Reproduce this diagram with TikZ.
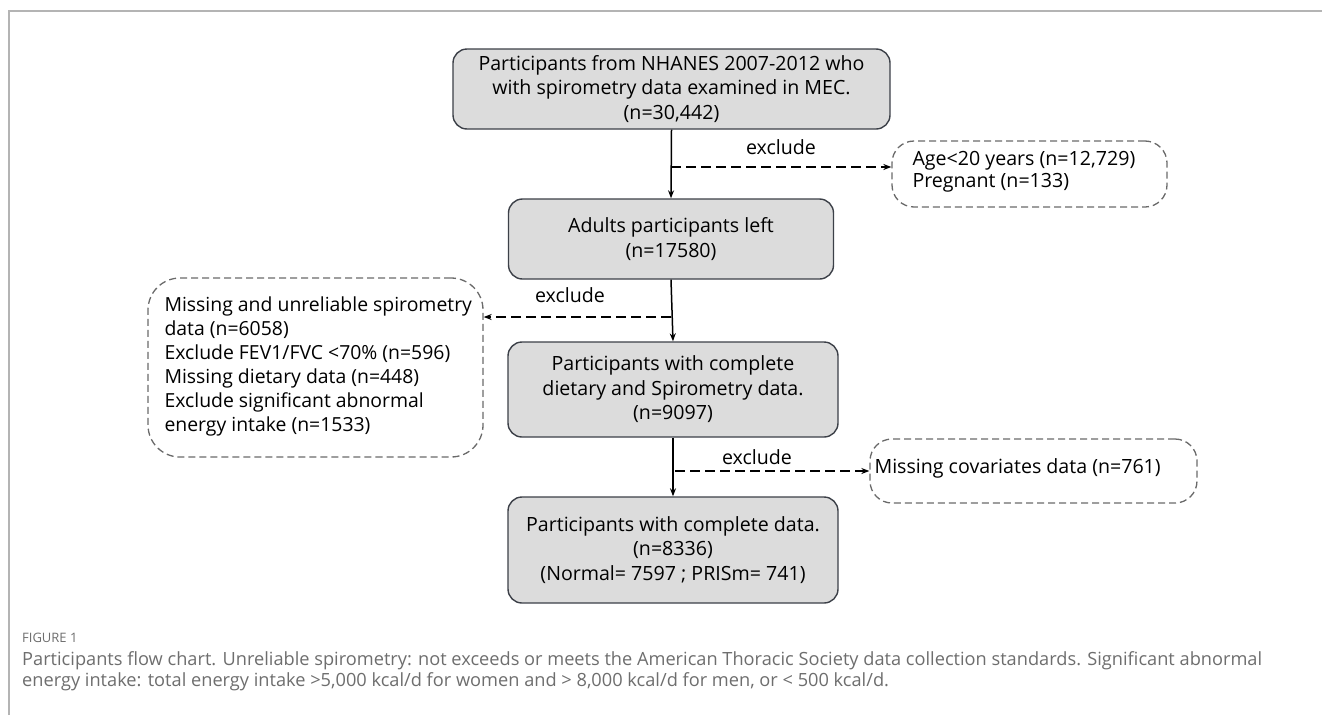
\documentclass[tikz,border=0pt]{standalone}
\usepackage{fontspec}
\setmainfont{Open Sans}
\usetikzlibrary{arrows.meta}
\definecolor{boxfill}{HTML}{DCDCDC}
\definecolor{boxline}{HTML}{3C4048}
\definecolor{exline}{HTML}{6A6A6A}
\definecolor{framegray}{HTML}{B4B4B4}
\definecolor{capgray}{HTML}{6E6E6E}
\newcommand{\boxfont}{\fontsize{19.6}{24.5}\selectfont}
\newcommand{\leftfont}{\fontsize{19.4}{24}\selectfont}
\newcommand{\capone}{Participants flow chart. Unreliable spirometry: not exceeds or meets the American Thoracic Society data collection standards. Significant abnormal}
\newlength{\capw}
\tikzset{
  mainbox/.style={draw=boxline, fill=boxfill, rounded corners=14pt, line width=1.4pt,
    align=center, font=\boxfont, inner sep=0pt},
  exbox/.style={draw=exline, dash pattern=on 7pt off 4pt, rounded corners=22pt,
    line width=1.3pt, inner sep=0pt},
  extext/.style={anchor=west, align=left, font=\boxfont, inner sep=0pt},
  flow/.style={line width=1.5pt, -{Stealth[length=8pt,width=6pt]}},
  exarrow/.style={line width=2pt, dash pattern=on 10pt off 5pt, -{Stealth[length=8pt,width=6pt]}},
  exlabel/.style={font=\boxfont, inner sep=0pt}
}
\begin{document}
\settowidth{\capw}{\fontsize{10}{12}\selectfont\capone}
\pgfmathsetmacro{\capsize}{10*1240/\capw}
\begin{tikzpicture}[x=1pt,y=-1pt,
  captext/.style={anchor=base west, inner sep=0pt, text=capgray, font=\fontsize{\capsize}{21}\selectfont}]
\useasboundingbox (0,0) rectangle (1322,715);
\fill[white] (0,0) rectangle (1322,715);
% frame
\draw[framegray, line width=1.5pt] (9,715) -- (9,11) -- (1322,11);

% main boxes
\node[mainbox, minimum width=437pt, minimum height=80pt] (b1) at (671.5,89)
  {Participants from NHANES 2007-2012 who\\with spirometry data examined in MEC.\\(n=30,442)};
\node[mainbox, minimum width=325pt, minimum height=80pt] (b2) at (671,239)
  {Adults participants left\\(n=17580)};
\node[mainbox, minimum width=330pt, minimum height=95pt] (b3) at (673,389.5)
  {Participants with complete\\dietary and Spirometry data.\\(n=9097)};
\node[mainbox, minimum width=330pt, minimum height=106pt] (b4) at (673,550)
  {Participants with complete data.\\(n=8336)\\(Normal= 7597 ; PRISm= 741)};

% exclusion boxes
\node[exbox, minimum width=275pt, minimum height=66pt] (e1) at (1029.5,174) {};
\node[extext] (e1t) at ([xshift=21pt,yshift=2pt]e1.west)
  {Age<20 years (n=12,729)\\[-2.5pt]Pregnant (n=133)};
\node[exbox, rounded corners=32pt, minimum width=335pt, minimum height=179pt] (e2) at (315.5,367.5) {};
\node[extext, font=\leftfont] (e2t) at ([xshift=17pt,yshift=1pt]e2.west)
  {Missing and unreliable spirometry\\data (n=6058)\\Exclude FEV1/FVC <70\% (n=596)\\Missing dietary data (n=448)\\Exclude significant abnormal\\energy intake (n=1533)};
\node[exbox, minimum width=327pt, minimum height=64pt] (e3) at (1033.5,471) {};
\node[extext] (e3t) at ([xshift=5pt,yshift=3pt]e3.west) {Missing covariates data (n=761)};

% flow arrows
\draw[flow] (b1.south) -- (b2.north);
\draw[flow] (b2.south) -- (b3.north);
\draw[flow] (b3.south) -- (b4.north);

% branch points
\coordinate (d1) at (671,167);
\coordinate (d2) at (671,317);
\coordinate (d3) at (675,471);
\draw[exarrow] (d1) -- (e1.west |- d1);
\draw[exarrow] (d2) -- (e2.east |- d2);
\draw[exarrow] (d3) -- (e3.west |- d3);

\node[exlabel] (x1) at (781,147) {exclude};
\node[exlabel] (x2) at (570,295) {exclude};
\node[exlabel] (x3) at (757,457) {exclude};

% caption
\node[anchor=base west, inner sep=0pt, text=capgray, font=\fontsize{13}{15}\selectfont] (fig) at (22,642) {FIGURE 1};
\node[captext] (cap1) at (22,665) {\capone};
\node[captext] (cap2) at (22,686)
  {energy intake: total energy intake >5,000 kcal/d for women and > 8,000 kcal/d for men, or < 500 kcal/d.};
\end{tikzpicture}
\end{document}
